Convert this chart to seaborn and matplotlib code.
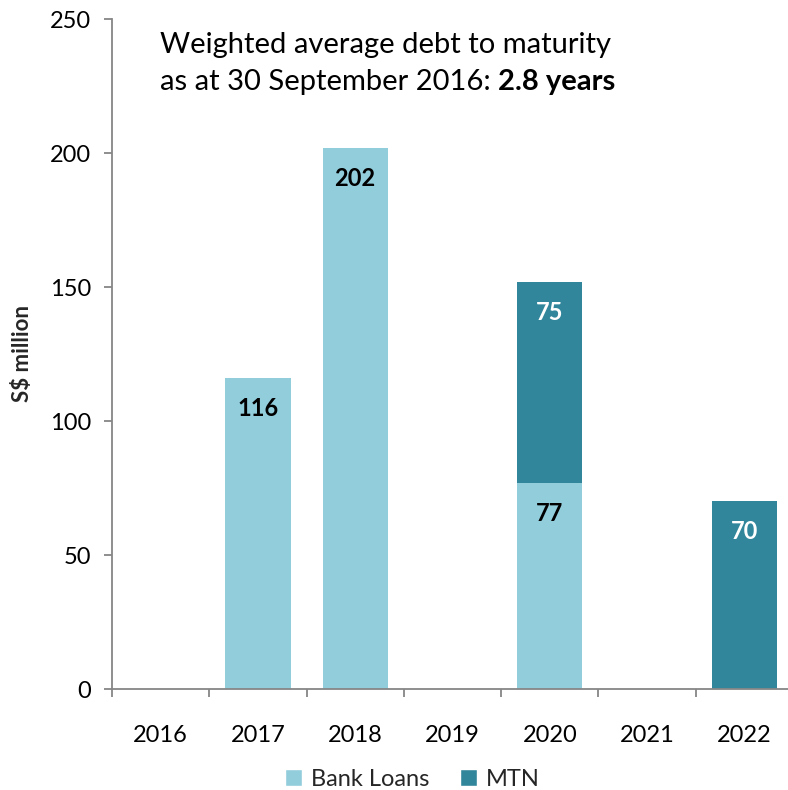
import matplotlib
matplotlib.use("Agg")
import matplotlib.pyplot as plt
import seaborn as sns
import pandas as pd
from matplotlib.patches import Patch

years = ["2016", "2017", "2018", "2019", "2020", "2021", "2022"]
bank_loans = [0, 116, 202, 0, 77, 0, 0]
mtn = [0, 0, 0, 0, 75, 0, 70]

light = "#92CDDC"
dark = "#31869B"
axis_grey = "#868686"

sns.set_theme(style="white")
plt.rcParams["font.family"] = ["Lato", "DejaVu Sans"]

df = pd.DataFrame({"year": years, "bank": bank_loans, "mtn": mtn})
df["total"] = df["bank"] + df["mtn"]

fig = plt.figure(figsize=(7.88, 7.90), dpi=100)
ax = fig.add_axes([112 / 788, 1 - 689 / 790, 681 / 788, 670 / 790])

# stacked bars: full height in MTN colour, bank loans drawn over the base
sns.barplot(data=df, x="year", y="total", color=dark, width=0.67,
            saturation=1, linewidth=0, ax=ax)
sns.barplot(data=df, x="year", y="bank", color=light, width=0.67,
            saturation=1, linewidth=0, ax=ax)

ax.set_ylim(0, 250)
ax.set_xlim(-0.5, 6.5)
ax.set_yticks([0, 50, 100, 150, 200, 250])
ax.set_xlabel("")
ax.set_ylabel("S$ million", fontsize=16, fontweight="bold", labelpad=12)

for s in ["top", "right"]:
    ax.spines[s].set_visible(False)
for s in ["left", "bottom"]:
    ax.spines[s].set_color(axis_grey)
    ax.spines[s].set_linewidth(1.3)

ax.tick_params(axis="y", which="major", direction="out", length=6,
               width=1.3, color=axis_grey, labelsize=17, pad=9,
               left=True, labelcolor="black")
ax.tick_params(axis="x", which="major", bottom=False, labelsize=17, pad=20,
               labelcolor="black")
ax.set_xticks(range(len(years)))
ax.set_xticklabels(years)
ax.set_xticks([i - 0.5 for i in range(len(years) + 1)], minor=True)
ax.tick_params(axis="x", which="minor", bottom=True, direction="out",
               length=6, width=1.3, color=axis_grey)

# value labels just below each segment top
for i, (b, m) in enumerate(zip(bank_loans, mtn)):
    if b > 0:
        ax.annotate(str(b), xy=(i, b), xytext=(0, -22),
                    textcoords="offset points", ha="center", va="center",
                    fontsize=17, fontweight="bold", color="black")
    if m > 0:
        ax.annotate(str(m), xy=(i, b + m), xytext=(0, -22),
                    textcoords="offset points", ha="center", va="center",
                    fontsize=17, fontweight="bold", color="white")

title_size = 21
fig.text(160 / 788, 1 - 45 / 790, "Weighted average debt to maturity",
         fontsize=title_size, ha="left", va="center", color="black")
t2 = fig.text(160 / 788, 1 - 82 / 790, "as at 30 September 2016: ",
              fontsize=title_size, ha="left", va="center", color="black")
fig.canvas.draw()
bb = t2.get_window_extent()
fig.text(bb.x1 / fig.bbox.width, 1 - 82 / 790, "2.8 years",
         fontsize=title_size, fontweight="bold", ha="left", va="center",
         color="black")

handles = [Patch(facecolor=light, label="Bank Loans"),
           Patch(facecolor=dark, label="MTN")]
fig.legend(handles=handles, loc="center", bbox_to_anchor=(412 / 788, 1 - 779 / 790),
           ncol=2, frameon=False, fontsize=17, handlelength=0.75,
           handleheight=0.75, handletextpad=0.35, columnspacing=1.3)

fig.savefig("out.png", dpi=100)
